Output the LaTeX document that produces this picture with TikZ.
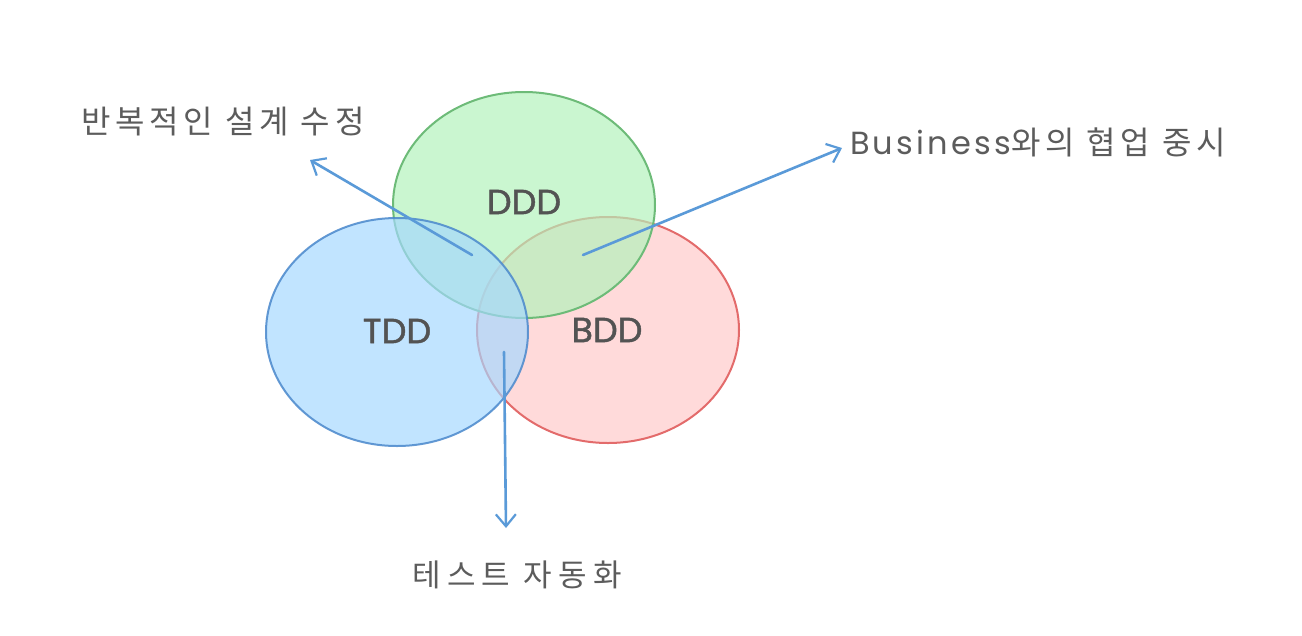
\documentclass[tikz,border=0pt]{standalone}
\usepackage{fontspec}
\setmainfont{Poppins}
\newfontfamily\kr[LetterSpace=15]{Noto Sans CJK KR}
\newfontfamily\krw[LetterSpace=20]{Noto Sans CJK KR}
\newfontfamily\bus[LetterSpace=10]{Poppins}
\newfontfamily\lab[FakeBold=1.2]{Poppins}
\usetikzlibrary{arrows.meta}
\definecolor{gfill}{HTML}{B2F2BB}
\definecolor{gline}{HTML}{6DBB78}
\definecolor{bfill}{HTML}{A5D8FF}
\definecolor{bline}{HTML}{4A88CC}
\definecolor{rfill}{HTML}{FFC9C9}
\definecolor{rline}{HTML}{E36B6B}
\definecolor{arr}{HTML}{5A9AD8}
\definecolor{txt}{HTML}{5C5C5C}
\tikzset{
  venn/.style={line width=2pt, fill opacity=0.68},
  vlabel/.style={text=txt!90!black, font=\lab\fontsize{35}{37}\selectfont},
  klabel/.style={text=txt, font=\kr\fontsize{32}{34}\selectfont},
  conn/.style={arr, line width=2.6pt, line cap=round, -{Straight Barb[length=12pt,width=20pt,line width=2.2pt]}}
}
\begin{document}
\begin{tikzpicture}[x=1pt,y=-1pt]
\useasboundingbox (0,0) rectangle (1302,635);
\fill[white] (0,0) rectangle (1302,635);
\draw[venn, draw=rline, fill=rfill] (608,330) ellipse [x radius=131, y radius=113];
\draw[venn, draw=gline, fill=gfill] (524,205) ellipse [x radius=131, y radius=113];
\draw[venn, draw=bline, fill=bfill, draw opacity=0.85] (397,332) ellipse [x radius=131, y radius=114];
\node[vlabel] (ddd) at (524,202) {DDD};
\node[vlabel] (tdd) at (397,331) {TDD};
\node[vlabel] (bdd) at (607,330) {BDD};
\node[klabel, anchor=west, inner sep=0pt] (l1) at (81,122) {반복적인 설계 수정};
\node[klabel, anchor=west, inner sep=0pt] (l2) at (850,142) {\bus\fontsize{32}{34}\selectfont Business\kr\fontsize{32}{34}\selectfont 와의 협업 중시};
\node[klabel, font=\krw\fontsize{31}{33}\selectfont] (l3) at (517,575) {테스트 자동화};
\coordinate (s1) at (472,255);
\coordinate (e1) at (310,160);
\coordinate (s2) at (583,255);
\coordinate (e2) at (842,148);
\coordinate (s3) at (504,352);
\coordinate (e3) at (506,528);
\draw[conn] (s1) -- (e1);
\draw[conn] (s2) -- (e2);
\draw[conn] (s3) -- (e3);
\end{tikzpicture}
\end{document}
